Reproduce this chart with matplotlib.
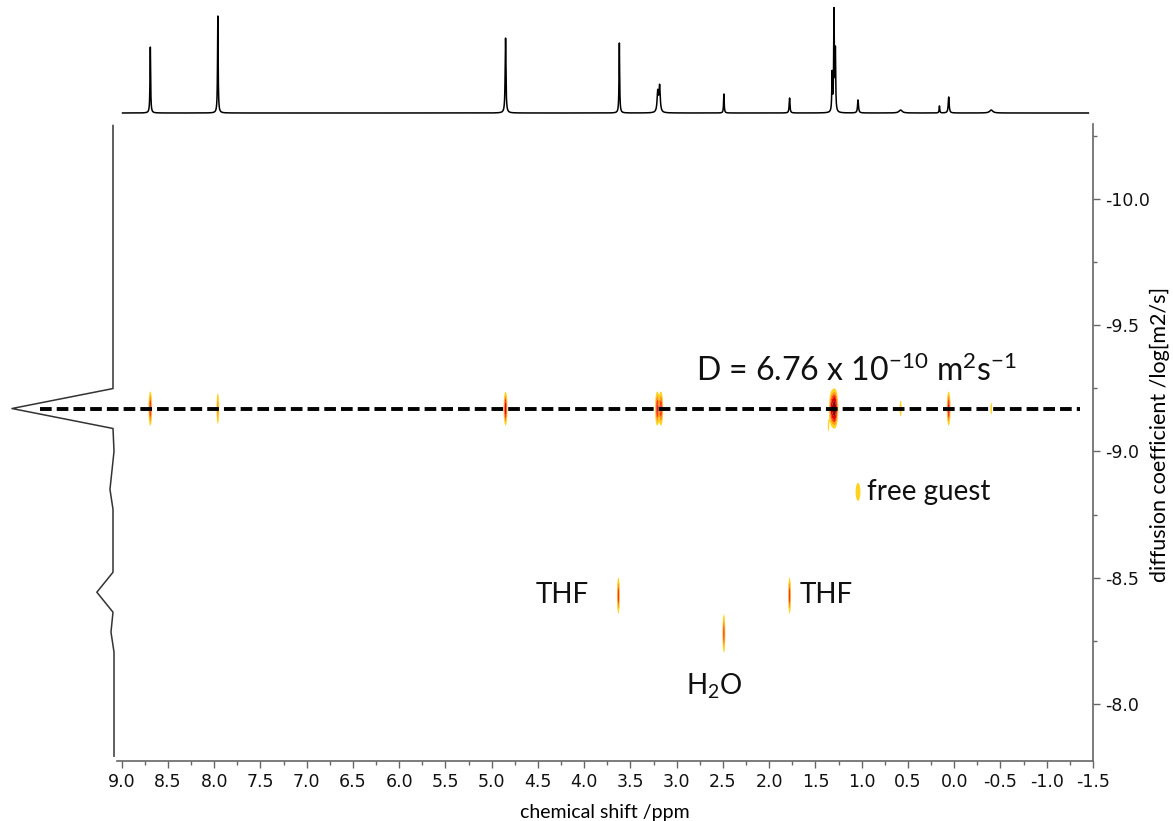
import numpy as np
import matplotlib
matplotlib.use("Agg")
import matplotlib.pyplot as plt

plt.rcParams['axes.unicode_minus'] = False
plt.rcParams['mathtext.fontset'] = 'custom'
plt.rcParams['mathtext.rm'] = 'Lato'
plt.rcParams['mathtext.it'] = 'Lato:italic'

# 1D proton spectrum (top projection)
top_ppm = [8.69, 7.96, 4.85, 3.62, 3.205, 3.185, 2.49, 1.78, 1.32, 1.300, 1.285, 1.04, 0.58, 0.16, 0.06, -0.40]
top_height = [66, 97, 75, 70, 20, 26, 19, 15, 38, 100, 60, 13, 3, 7, 16, 3]
top_gamma = [0.004, 0.004, 0.005, 0.004, 0.008, 0.008, 0.004, 0.005, 0.004, 0.004, 0.004, 0.006, 0.02, 0.004, 0.006, 0.02]

# DOSY cross peaks
pk_ppm = [8.69, 7.96, 4.85, 3.21, 3.17, 1.32, 1.29, 0.58, 0.06, -0.40, 1.36, 1.04, 3.63, 1.78, 2.49]
pk_logd = [-9.17, -9.17, -9.17, -9.17, -9.17, -9.17, -9.17, -9.17, -9.17, -9.17, -9.10, -8.84, -8.43, -8.43, -8.28]
pk_amp = [0.8, 0.4, 1.0, 0.8, 0.8, 1.0, 1.6, 0.18, 0.9, 0.15, 0.14, 0.2, 0.7, 0.7, 0.7]
pk_sx = [0.010, 0.009, 0.010, 0.012, 0.012, 0.016, 0.016, 0.010, 0.010, 0.010, 0.008, 0.022, 0.008, 0.008, 0.008]
pk_sy = [0.033, 0.036, 0.031, 0.033, 0.033, 0.033, 0.033, 0.029, 0.032, 0.026, 0.024, 0.030, 0.036, 0.036, 0.038]

# diffusion projection (left)
proj_logd = [-10.29, -9.249, -9.170, -9.091, -9.0, -8.85, -8.771, -8.522, -8.443, -8.364, -8.285, -8.206, -7.794]
proj_int = [0.0, 0.0, 1.0, 0.0, -0.01, 0.03, 0.0, 0.0, 0.16, 0.0, 0.02, -0.01, -0.01]

D_value = 6.76e-10
dline_ppm = [9.88, -1.36]

W, H = 1173, 821
fig = plt.figure(figsize=(W / 100, H / 100), dpi=100)

def box(l, t, r, b):
    return [l / W, 1 - b / H, (r - l) / W, (b - t) / H]

ax = fig.add_axes(box(117, 124, 1093, 761))
ax_top = fig.add_axes(box(117, 0, 1093, 118))
ax_left = fig.add_axes(box(5, 124, 117, 761))

xlim = (9.05, -1.5)
ylim = (-7.775, -10.296)

# contour map
gx = np.linspace(xlim[0], xlim[1], 4000)
gy = np.linspace(ylim[1], ylim[0], 1000)
Z = np.zeros((gy.size, gx.size))
for x0, y0, a, sx, sy in zip(pk_ppm, pk_logd, pk_amp, pk_sx, pk_sy):
    Z += a * np.outer(np.exp(-(gy - y0) ** 2 / (2 * sy ** 2)), np.exp(-(gx - x0) ** 2 / (2 * sx ** 2)))
levels = [0.1, 0.25, 0.45, 0.7, 1.2, 100]
cols = ['#ffd21f', '#ff9a00', '#ff3a00', '#e00000', '#9a0000']
ax.contourf(gx, gy, Z, levels=levels, colors=cols, antialiased=True)

logD = np.log10(D_value)
ax.plot(dline_ppm, [logD, logD], color='black', lw=2.8, ls=(0, (3.0, 1.3)), clip_on=False, zorder=5)

ax.set_xlim(*xlim)
ax.set_ylim(*ylim)
ax.xaxis.set_major_locator(matplotlib.ticker.MultipleLocator(0.5))
ax.xaxis.set_minor_locator(matplotlib.ticker.MultipleLocator(0.25))
ax.yaxis.set_major_locator(matplotlib.ticker.MultipleLocator(0.5))
ax.yaxis.set_minor_locator(matplotlib.ticker.MultipleLocator(0.25))
ax.xaxis.set_major_formatter(matplotlib.ticker.FormatStrFormatter('%.1f'))
ax.yaxis.set_major_formatter(matplotlib.ticker.FormatStrFormatter('%.1f'))
ax.yaxis.tick_right()
for s in ['top', 'left']:
    ax.spines[s].set_visible(False)
for s in ['bottom', 'right']:
    ax.spines[s].set_color('#666666')
    ax.spines[s].set_linewidth(1.2)
ax.tick_params(which='major', length=5, width=1, color='#666666', labelsize=12.5, labelcolor='#111111')
ax.tick_params(which='minor', length=3, width=1, color='#666666')
ax.set_xlabel('chemical shift /ppm', fontfamily='Lato', fontsize=14)
ax.xaxis.set_label_coords(0.5, -0.068)
ax.yaxis.set_label_position('right')
ax.set_ylabel('diffusion coefficient /log[m2/s]', fontfamily='Lato', fontsize=15.5)
ax.yaxis.set_label_coords(1.058, 0.513)

# annotations
tkw = dict(fontfamily='Lato', fontsize=20, color='#111111')
ax.text(1.06, -9.32, r'D = 6.76 x 10$^{-10}$ m$^{2}$s$^{-1}$', ha='center', va='center',
        fontfamily='Lato', fontsize=23, color='#111111')
ax.text(0.945, -8.84, 'free guest', ha='left', va='center', **tkw)
ax.text(4.24, -8.43, 'THF', ha='center', va='center', **tkw)
ax.text(1.38, -8.43, 'THF', ha='center', va='center', **tkw)
ax.text(2.59, -8.07, r'H$_{2}$O', ha='center', va='center', **tkw)

# top spectrum
sx_ = np.linspace(8.99, -1.45, 20000)
spec = np.zeros_like(sx_)
for p, h, g in zip(top_ppm, top_height, top_gamma):
    spec += h * g ** 2 / ((sx_ - p) ** 2 + g ** 2)
ax_top.plot(sx_, spec, color='black', lw=1.1)
ax_top.set_xlim(*xlim)
ax_top.set_ylim(-5, 113)
ax_top.axis('off')

# left projection
ax_left.plot(proj_int, proj_logd, color='#333333', lw=1.1)
ax_left.set_xlim(1.069, -0.0396)
ax_left.set_ylim(*ylim)
ax_left.axis('off')

fig.savefig('out.png', dpi=100)
